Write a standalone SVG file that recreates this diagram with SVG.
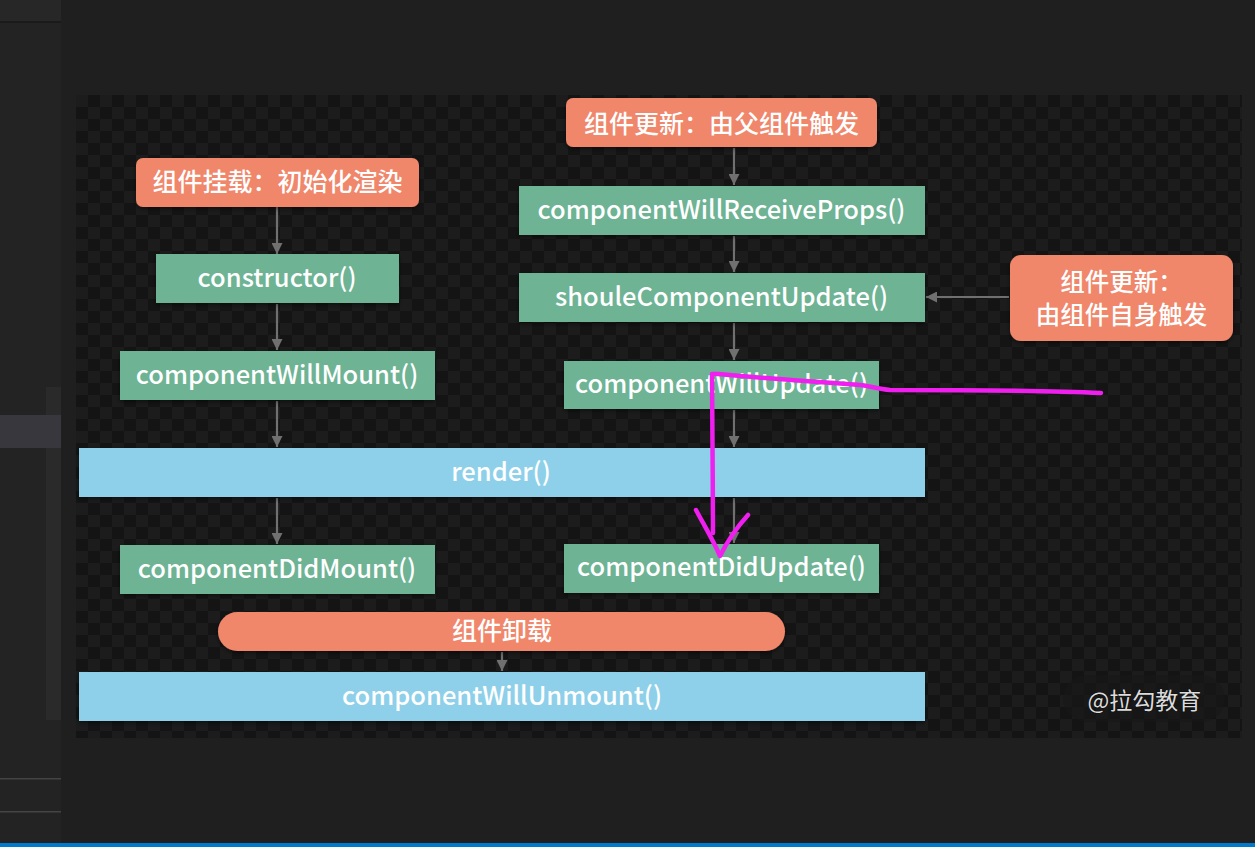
<svg xmlns="http://www.w3.org/2000/svg" width="1255" height="847" viewBox="0 0 1255 847">
<style>
.t{font-family:"Noto Sans CJK SC","Noto Sans",sans-serif;font-size:25px;font-weight:500;fill:#ffffff;text-anchor:middle}
.l{font-size:25.5px}
.salmon{fill:#f0866a}
.green{fill:#6db394}
.blue{fill:#8ed0e9}
.conn{stroke:#707070;stroke-width:2.2;fill:none;marker-end:url(#ah)}
.hand{stroke:#f01ff0;stroke-width:4.5;fill:none;stroke-linecap:round;stroke-linejoin:round}
</style>
<defs>
<pattern id="chk" x="76" y="95" width="24" height="24" patternUnits="userSpaceOnUse">
<rect width="24" height="24" fill="#1c1c1c"/>
<rect x="12" y="0" width="12" height="12" fill="#141414"/>
<rect x="0" y="12" width="12" height="12" fill="#141414"/>
</pattern>
<marker id="ah" viewBox="0 0 10 10" refX="10" refY="5" markerWidth="5" markerHeight="5" orient="auto" markerUnits="strokeWidth">
<path d="M0,0 L10,5 L0,10 z" fill="#707070"/>
</marker>
<filter id="sh" x="-10%" y="-20%" width="120%" height="150%">
<feDropShadow dx="0" dy="2" stdDeviation="2" flood-color="#000" flood-opacity="0.45"/>
</filter>
</defs>

<!-- editor chrome -->
<rect width="1255" height="847" fill="#1f1f1f"/>
<rect x="0" y="0" width="61" height="847" fill="#232323"/>
<rect x="0" y="0" width="61" height="21" fill="#272727"/>
<rect x="0" y="21" width="61" height="2" fill="#1a1a1a"/>
<rect x="46" y="387" width="15" height="333" fill="#2a2a2a"/>
<rect x="0" y="415" width="61" height="33" fill="#37373d"/>
<rect x="0" y="778" width="61" height="1.5" fill="#444444"/>
<rect x="0" y="811" width="61" height="1.5" fill="#444444"/>
<rect x="0" y="843" width="1255" height="4" fill="#007acc"/>

<!-- checkerboard canvas -->
<rect x="76" y="95" width="1166" height="643" fill="url(#chk)"/>

<!-- connectors -->
<g id="connectors">
<line class="conn" x1="277" y1="207" x2="277" y2="254"/>
<line class="conn" x1="277" y1="304" x2="277" y2="350"/>
<line class="conn" x1="277" y1="401" x2="277" y2="447"/>
<line class="conn" x1="277" y1="498" x2="277" y2="544"/>
<line class="conn" x1="734" y1="148" x2="734" y2="185"/>
<line class="conn" x1="734" y1="236" x2="734" y2="272"/>
<line class="conn" x1="734" y1="323" x2="734" y2="360"/>
<line class="conn" x1="734" y1="410" x2="734" y2="447"/>
<line class="conn" x1="734" y1="498" x2="734" y2="543"/>
<line class="conn" x1="1009" y1="297" x2="926" y2="297"/>
<line class="conn" x1="502" y1="652" x2="502" y2="671"/>
</g>

<g id="mount-title">
<rect class="salmon" x="136" y="158" width="283" height="49" rx="7" filter="url(#sh)"/>
<text class="t" x="277.5" y="191">组件挂载：初始化渲染</text>
</g>
<g id="constructor">
<rect class="green" x="156" y="254" width="243" height="49" filter="url(#sh)"/>
<text class="t l" x="277" y="287">constructor()</text>
</g>
<g id="componentWillMount">
<rect class="green" x="120" y="351" width="315" height="49" filter="url(#sh)"/>
<text class="t l" x="277" y="384">componentWillMount()</text>
</g>
<g id="render">
<rect class="blue" x="79" y="448" width="846" height="49" filter="url(#sh)"/>
<text class="t l" x="501" y="481">render()</text>
</g>
<g id="componentDidMount">
<rect class="green" x="120" y="545" width="315" height="49" filter="url(#sh)"/>
<text class="t l" x="277" y="578">componentDidMount()</text>
</g>
<g id="unmount-title">
<rect class="salmon" x="218" y="612" width="567" height="39" rx="19.5" filter="url(#sh)"/>
<text class="t" x="502" y="640">组件卸载</text>
</g>
<g id="componentWillUnmount">
<rect class="blue" x="79" y="672" width="846" height="49" filter="url(#sh)"/>
<text class="t l" x="502" y="705">componentWillUnmount()</text>
</g>
<g id="update-parent-title">
<rect class="salmon" x="566" y="98" width="311" height="49" rx="7" filter="url(#sh)"/>
<text class="t" x="721.5" y="133">组件更新：由父组件触发</text>
</g>
<g id="componentWillReceiveProps">
<rect class="green" x="519" y="186" width="406" height="49" filter="url(#sh)"/>
<text class="t l" x="721.5" y="219">componentWillReceiveProps()</text>
</g>
<g id="shouleComponentUpdate">
<rect class="green" x="519" y="273" width="406" height="49" filter="url(#sh)"/>
<text class="t l" x="721.5" y="306">shouleComponentUpdate()</text>
</g>
<g id="componentWillUpdate">
<rect class="green" x="564" y="361" width="315" height="48" filter="url(#sh)"/>
<text class="t l" x="721.5" y="393">componentWillUpdate()</text>
</g>
<g id="componentDidUpdate">
<rect class="green" x="564" y="544" width="315" height="49" filter="url(#sh)"/>
<text class="t l" x="721.5" y="576">componentDidUpdate()</text>
</g>
<g id="update-self-title">
<rect class="salmon" x="1010" y="255" width="223" height="86" rx="11" filter="url(#sh)"/>
<text class="t" x="1121.5" y="291" style="font-size:24.5px">组件更新：</text>
<text class="t" x="1121.5" y="324" style="font-size:24.5px">由组件自身触发</text>
</g>
<g id="watermark">
<rect x="1063" y="675" width="162" height="47" rx="23.5" fill="#181818" opacity="0.6"/>
<text x="1144.5" y="709" style="font-family:'Noto Sans CJK SC',sans-serif;font-size:23px;fill:#dcdcdc;text-anchor:middle;stroke:#000;stroke-width:0.6;paint-order:stroke">@拉勾教育</text>
</g>

<!-- hand-drawn annotation -->
<g id="annotation">
<path class="hand" d="M1101,393 C1060,391 960,390 890,390 C878,389 870,386 860,385 C820,382 760,378 718,374 L712,374 C712,420 713,480 713,533"/>
<path class="hand" d="M696,510 C704,525 713,540 720,556 C728,540 738,526 748,515"/>
</g>
</svg>
